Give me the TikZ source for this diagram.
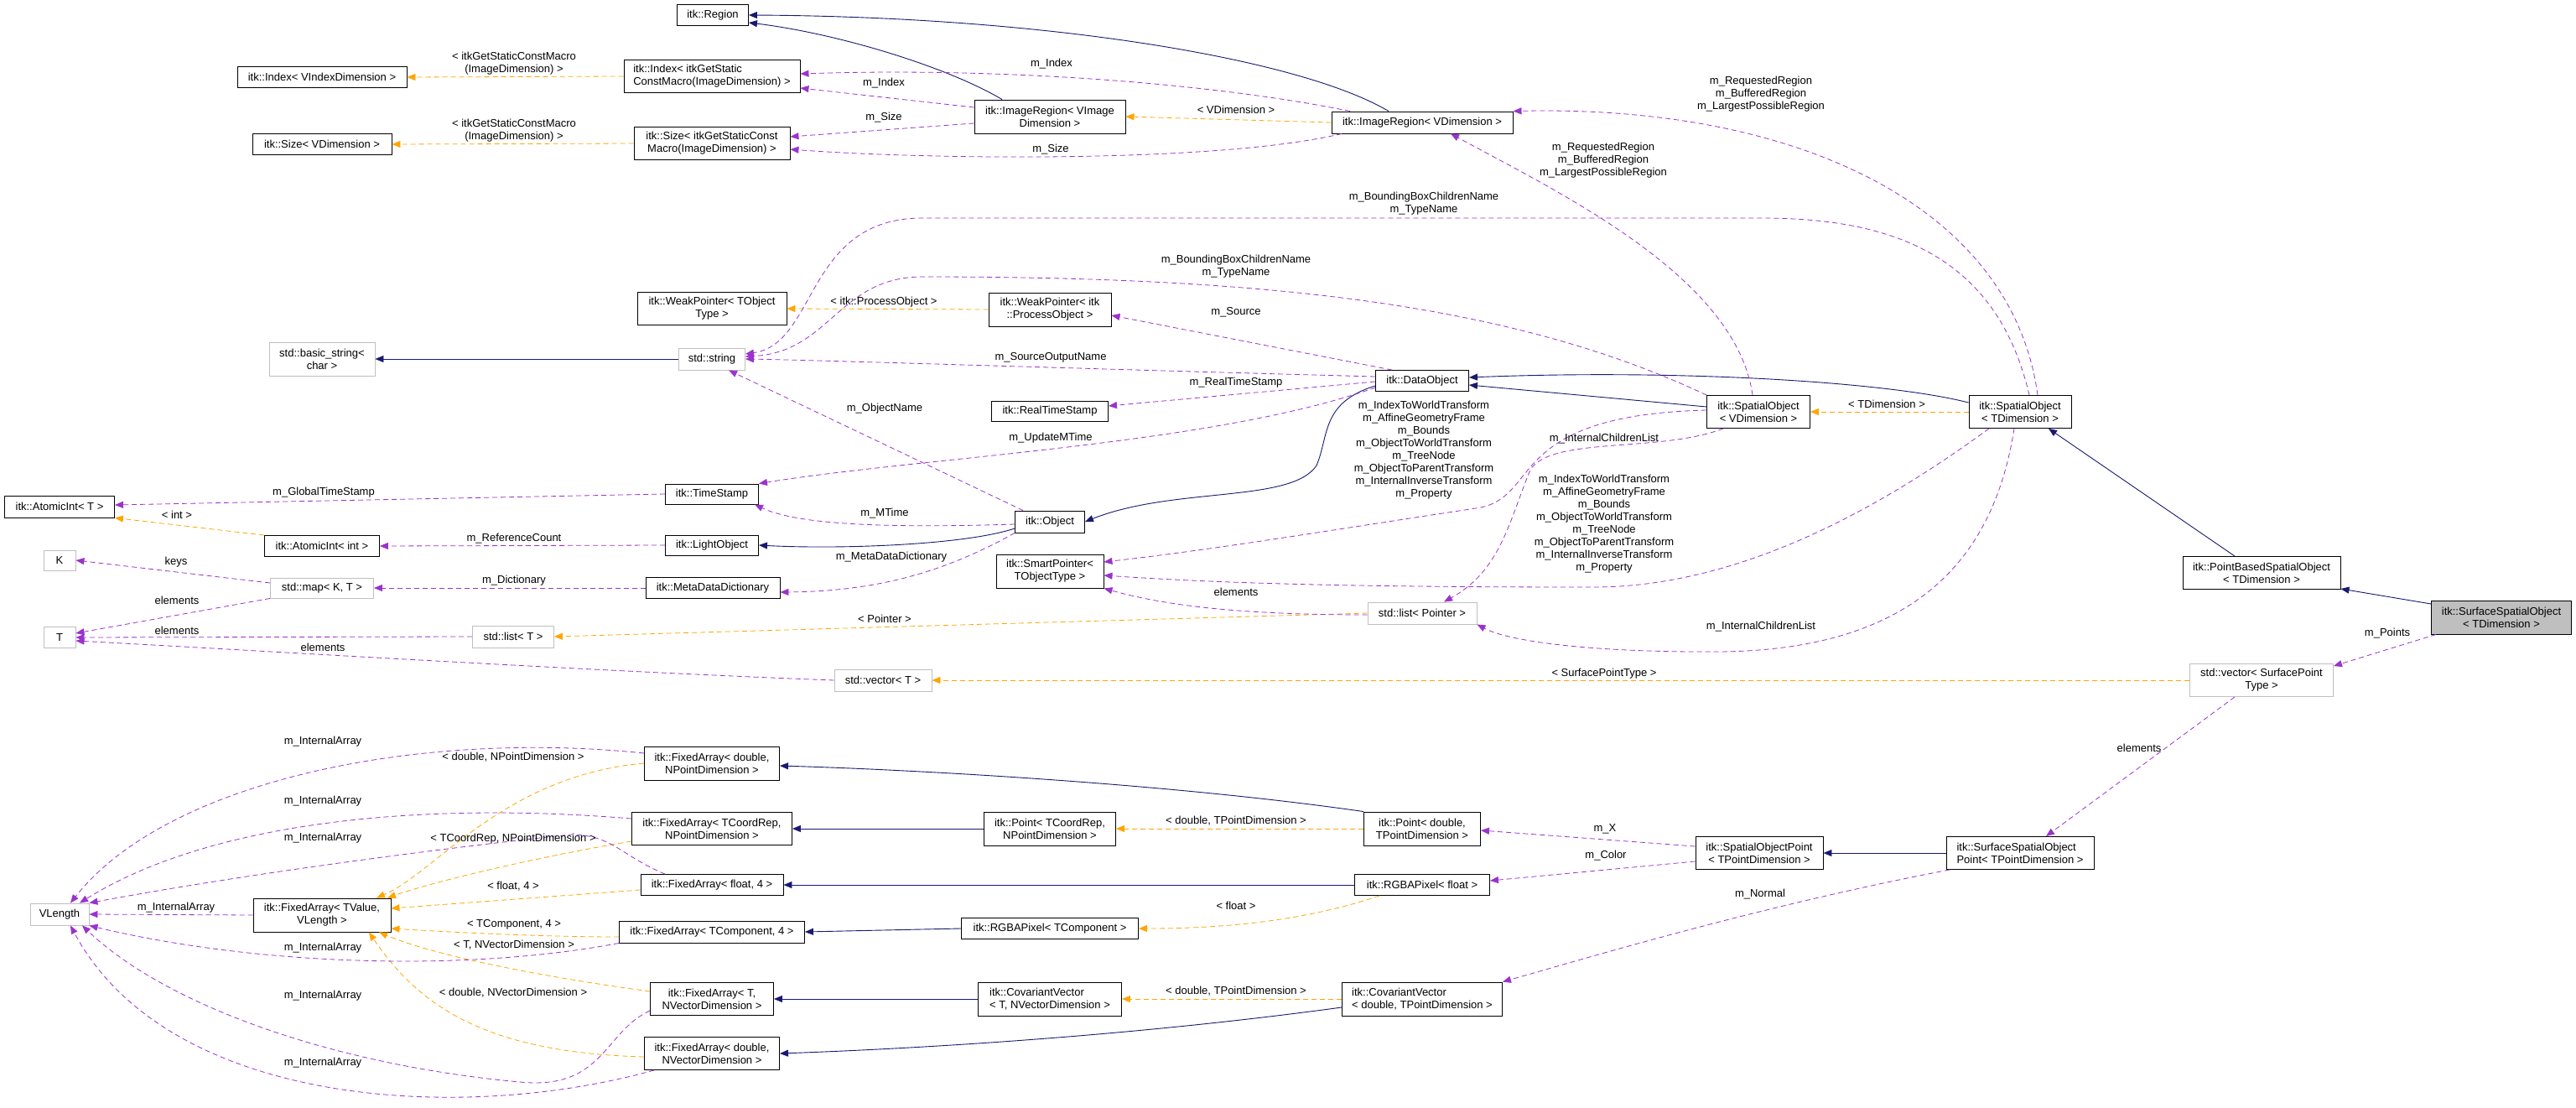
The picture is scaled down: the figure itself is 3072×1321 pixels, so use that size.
\documentclass[tikz,border=0pt]{standalone}
\usepackage{fontspec}
\setmainfont{Liberation Sans}
\usetikzlibrary{arrows.meta}
\definecolor{inhc}{HTML}{191970}
\definecolor{usec}{HTML}{9A32CD}
\definecolor{tmpc}{HTML}{FFA500}
\definecolor{gbord}{HTML}{BFBFBF}
\begin{document}
\begin{tikzpicture}[x=1pt,y=-1pt,
 every node/.style={font=\fontsize{13}{15}\selectfont},
 box/.style={draw=black,line width=0.9pt,fill=white,align=center,inner sep=2pt},
 lbox/.style={box,align=left},
 gbox/.style={box,draw=gbord},
 lab/.style={align=center,inner sep=0pt,fill=none},
 tip/.style={-{Triangle[length=10pt,width=8pt]}},
 inh/.style={tip,draw=inhc,line width=0.9pt},
 use/.style={tip,draw=usec,line width=0.8pt,dash pattern=on 6pt off 4pt},
 tmp/.style={tip,draw=tmpc,line width=0.8pt,dash pattern=on 6pt off 4pt}]
\useasboundingbox[fill=white] (0,0) rectangle (3072,1321);
% nodes
\node[box,minimum width=85,minimum height=25] (region) at (850,18) {itk::Region};
\node[box,minimum width=202,minimum height=25] (idxv) at (384,92) {itk::Index< VIndexDimension >};
\node[lbox,minimum width=210,minimum height=39] (idxg) at (849,91) {itk::Index< itkGetStatic\\ConstMacro(ImageDimension) >};
\node[box,minimum width=166,minimum height=25] (sizev) at (384,172) {itk::Size< VDimension >};
\node[box,minimum width=186,minimum height=39] (sizeg) at (849,171) {itk::Size< itkGetStaticConst\\Macro(ImageDimension) >};
\node[box,minimum width=180,minimum height=40] (irvi) at (1252,139) {itk::ImageRegion< VImage\\Dimension >};
\node[box,minimum width=216,minimum height=26] (irvd) at (1696,146) {itk::ImageRegion< VDimension >};
\node[box,minimum width=178,minimum height=39] (wpt) at (849,368) {itk::WeakPointer< TObject\\Type >};
\node[box,minimum width=146,minimum height=40] (wpp) at (1252,369) {itk::WeakPointer< itk\\::ProcessObject >};
\node[gbox,minimum width=126,minimum height=40] (bstr) at (384,428) {std::basic\_string<\\char >};
\node[gbox,minimum width=79,minimum height=26] (str) at (849,428) {std::string};
\node[box,minimum width=111,minimum height=25] (dobj) at (1696,454) {itk::DataObject};
\node[box,minimum width=139,minimum height=24] (rts) at (1252,490) {itk::RealTimeStamp};
\node[box,minimum width=111,minimum height=24] (ts) at (849,589) {itk::TimeStamp};
\node[box,minimum width=83,minimum height=26] (obj) at (1252,622) {itk::Object};
\node[box,minimum width=131,minimum height=26] (aint) at (71,604) {itk::AtomicInt< T >};
\node[box,minimum width=137,minimum height=25] (aii) at (384,651) {itk::AtomicInt< int >};
\node[box,minimum width=111,minimum height=24] (lobj) at (849,650) {itk::LightObject};
\node[gbox,minimum width=38,minimum height=24] (K) at (71,668) {K};
\node[gbox,minimum width=123,minimum height=24] (map) at (384,701) {std::map< K, T >};
\node[box,minimum width=160,minimum height=25] (mdd) at (850,701) {itk::MetaDataDictionary};
\node[box,minimum width=128,minimum height=40] (sp) at (1252,681) {itk::SmartPointer<\\TObjectType >};
\node[gbox,minimum width=38,minimum height=25] (T) at (71,760) {T};
\node[gbox,minimum width=97,minimum height=26] (listT) at (612,759) {std::list< T >};
\node[gbox,minimum width=130,minimum height=26] (listP) at (1696,731) {std::list< Pointer >};
\node[gbox,minimum width=116,minimum height=26] (vecT) at (1053,811) {std::vector< T >};
\node[box,minimum width=123,minimum height=39] (sov) at (2097,491) {itk::SpatialObject\\< VDimension >};
\node[box,minimum width=122,minimum height=39] (sot) at (2409,491) {itk::SpatialObject\\< TDimension >};
\node[box,minimum width=188,minimum height=39] (pbso) at (2697,683) {itk::PointBasedSpatialObject\\< TDimension >};
\node[box,fill=gbord,minimum width=167,minimum height=40] (sso) at (2983,736) {itk::SurfaceSpatialObject\\< TDimension >};
\node[gbox,minimum width=171,minimum height=39] (vecS) at (2697,811) {std::vector< SurfacePoint\\Type >};
\node[box,minimum width=161,minimum height=40] (fadnp) at (849,910) {itk::FixedArray< double,\\NPointDimension >};
\node[box,minimum width=191,minimum height=39] (fatc) at (849,988) {itk::FixedArray< TCoordRep,\\NPointDimension >};
\node[box,minimum width=170,minimum height=25] (faf4) at (849,1055) {itk::FixedArray< float, 4 >};
\node[box,minimum width=221,minimum height=26] (fatcomp) at (849,1111) {itk::FixedArray< TComponent, 4 >};
\node[box,minimum width=147,minimum height=39] (fatnv) at (849,1191) {itk::FixedArray< T,\\NVectorDimension >};
\node[box,minimum width=161,minimum height=39] (fadnv) at (849,1256) {itk::FixedArray< double,\\NVectorDimension >};
\node[gbox,minimum width=70,minimum height=26] (vlen) at (71,1090) {VLength};
\node[box,minimum width=164,minimum height=40] (fatv) at (384,1091) {itk::FixedArray< TValue,\\VLength >};
\node[box,minimum width=157,minimum height=40] (ptc) at (1252,988) {itk::Point< TCoordRep,\\NPointDimension >};
\node[box,minimum width=139,minimum height=40] (ptd) at (1696,988) {itk::Point< double,\\TPointDimension >};
\node[box,minimum width=161,minimum height=25] (rgbaf) at (1696,1055) {itk::RGBAPixel< float >};
\node[box,minimum width=211,minimum height=25] (rgbat) at (1252,1107) {itk::RGBAPixel< TComponent >};
\node[lbox,minimum width=171,minimum height=40] (cvt) at (1252,1191) {itk::CovariantVector\\< T, NVectorDimension >};
\node[lbox,minimum width=191,minimum height=40] (cvd) at (1696,1191) {itk::CovariantVector\\< double, TPointDimension >};
\node[box,minimum width=152,minimum height=39] (sop) at (2098,1017) {itk::SpatialObjectPoint\\< TPointDimension >};
\node[lbox,minimum width=176,minimum height=39] (ssop) at (2409,1017) {itk::SurfaceSpatialObject\\Point< TPointDimension >};
% inheritance
\draw[inh] ([xshift=-57]irvi.north) .. controls (1130,80) and (1000,40) .. ([yshift=-9]region.east);
\draw[inh] ([xshift=-40]irvd.north) .. controls (1550,70) and (1250,20) .. (region.east);
\draw[inh] (str.west) -- (bstr.east);
\draw[inh] ([yshift=-8]obj.west) .. controls (1150,650) and (1000,655) .. (lobj.east);
\draw[inh] ([yshift=-6]dobj.west) .. controls (1575,480) and (1585,520) .. (1570,555) .. controls (1540,600) and (1400,580) .. (obj.east);
\draw[inh] ([yshift=6]sov.west) -- ([yshift=-5]dobj.east);
\draw[inh] ([yshift=11]sot.west) .. controls (2250,455) and (2000,440) .. ([yshift=4]dobj.east);
\draw[inh] ([xshift=-32]pbso.north) -- ([xshift=34]sot.south);
\draw[inh] ([yshift=16]sso.west) -- ([yshift=-19]pbso.east);
\draw[inh] (ptd.north west) .. controls (1400,935) and (1100,918) .. ([yshift=-3]fadnp.east);
\draw[inh] (ptc.west) -- (fatc.east);
\draw[inh] (rgbaf.west) -- (faf4.east);
\draw[inh] (rgbat.west) -- (fatcomp.east);
\draw[inh] (cvt.west) -- (fatnv.east);
\draw[inh] ([yshift=-10]cvd.west) .. controls (1350,1235) and (1100,1250) .. (fadnv.east);
\draw[inh] (ssop.west) -- (sop.east);
% templates
\draw[tmp] (idxg.west) -- (idxv.east);
\draw[tmp] (sizeg.west) -- (sizev.east);
\draw[tmp] (irvd.west) -- (irvi.east);
\draw[tmp] (wpp.west) -- (wpt.east);
\draw[tmp] (aii.north west) -- (aint.south east);
\draw[tmp] (listP.west) -- (listT.east);
\draw[tmp] (vecS.west) -- (vecT.east);
\draw[tmp] (sot.west) -- (sov.east);
\draw[tmp] (ptd.west) -- (ptc.east);
\draw[tmp] ([xshift=-51]rgbaf.south) .. controls (1550,1100) and (1450,1107) .. (rgbat.east);
\draw[tmp] (cvd.west) -- (cvt.east);
\draw[tmp] (fadnp.west) .. controls (600,925) and (520,1040) .. ([xshift=65]fatv.north);
\draw[tmp] ([yshift=-15]fatc.west) .. controls (650,1020) and (520,1050) .. ([xshift=78]fatv.north);
\draw[tmp] ([yshift=-6]faf4.west) -- ([yshift=8]fatv.east);
\draw[tmp] ([yshift=-6]fatcomp.west) .. controls (650,1117) and (550,1112) .. ([yshift=-16]fatv.east);
\draw[tmp] ([yshift=9]fatnv.west) .. controls (650,1165) and (520,1140) .. ([xshift=68]fatv.south);
\draw[tmp] ([yshift=-4]fadnv.west) .. controls (580,1255) and (500,1200) .. ([xshift=56]fatv.south);
% usage
\draw[use] ([yshift=11]irvi.west) -- ([yshift=-14]idxg.east);
\draw[use] ([xshift=-86]irvd.north) .. controls (1450,100) and (1200,80) .. ([yshift=3]idxg.east);
\draw[use] ([yshift=-8]irvi.west) -- ([yshift=8]sizeg.east);
\draw[use] ([xshift=-96]irvd.south) .. controls (1450,195) and (1100,190) .. ([yshift=-7]sizeg.east);
\draw[use] ([xshift=21]sot.north) .. controls (2400,250) and (2150,125) .. (irvd.north east);
\draw[use] ([xshift=-7]sov.north) .. controls (2070,330) and (1860,230) .. ([xshift=34]irvd.south);
\draw[use] ([xshift=11]sot.north) .. controls (2380,300) and (2250,260) .. (2100,260) -- (1100,260) .. controls (960,260) and (975,410) .. ([yshift=6]str.east);
\draw[use] (sov.north west) .. controls (1800,360) and (1500,330) .. (1100,330) .. controls (1000,330) and (990,420) .. ([yshift=3]str.east);
\draw[use] ([yshift=5]dobj.west) .. controls (1300,440) and (1000,430) .. (str.east);
\draw[use] ([xshift=-32]obj.north) -- ([xshift=20]str.south);
\draw[use] ([xshift=-36]dobj.north) -- ([yshift=-7]wpp.east);
\draw[use] ([yshift=-1]dobj.west) -- ([yshift=6]rts.east);
\draw[use] ([yshift=-8]dobj.west) .. controls (1450,530) and (1100,545) .. (ts.north east);
\draw[use] ([yshift=-3]obj.west) .. controls (1050,630) and (950,625) .. ([xshift=-5]ts.south east);
\draw[use] (ts.west) -- ([yshift=2]aint.east);
\draw[use] (lobj.west) -- (aii.east);
\draw[use] (obj.south west) .. controls (1130,680) and (1050,705) .. ([yshift=-5]mdd.east);
\draw[use] (mdd.west) -- (map.east);
\draw[use] ([yshift=6]map.west) -- (K.east);
\draw[use] (map.south west) -- ([yshift=5]T.east);
\draw[use] (listT.west) -- (T.east);
\draw[use] (vecT.west) .. controls (700,800) and (300,775) .. ([yshift=-4]T.east);
\draw[use] ([yshift=2]sov.west) .. controls (1790,495) and (1840,595) .. (1760,606) .. controls (1600,630) and (1450,655) .. ([yshift=11]sp.east);
\draw[use] ([xshift=-37]sot.south) .. controls (2250,600) and (2080,700) .. (1900,700) .. controls (1600,700) and (1450,695) .. ([yshift=-5]sp.east);
\draw[use] ([yshift=-2]listP.west) .. controls (1500,733) and (1400,725) .. (sp.south east);
\draw[use] ([xshift=-42]sov.south) .. controls (1980,540) and (1850,520) .. (1825,560) .. controls (1800,620) and (1790,680) .. ([xshift=26]listP.north);
\draw[use] ([xshift=-7]sot.south) .. controls (2380,650) and (2300,775) .. (2050,777) .. controls (1900,778) and (1800,765) .. (listP.south east);
\draw[use] ([xshift=-78]sso.south) -- ([yshift=-3]vecS.north east);
\draw[use] ([xshift=-32]vecS.south) -- ([xshift=31]ssop.north);
\draw[use] ([yshift=8]sop.west) -- ([yshift=-2]ptd.east);
\draw[use] ([yshift=-10]sop.west) -- ([yshift=5]rgbaf.east);
\draw[use] ([xshift=-84]ssop.south) .. controls (2100,1080) and (1900,1140) .. (cvd.north east);
\draw[use] ([yshift=12]fadnp.west) .. controls (500,870) and (200,930) .. ([xshift=13]vlen.north);
\draw[use] ([yshift=12]fatc.west) .. controls (500,955) and (250,980) .. ([xshift=24]vlen.north);
\draw[use] ([xshift=-56]faf4.north) .. controls (740,1020) and (730,995) .. (680,995) .. controls (450,1020) and (250,1050) .. (vlen.north east);
\draw[use] (fatv.west) -- (vlen.east);
\draw[use] (fatcomp.south west) .. controls (550,1160) and (300,1150) .. (vlen.south east);
\draw[use] ([yshift=-14]fatnv.west) .. controls (720,1230) and (720,1300) .. (620,1290) .. controls (400,1270) and (200,1200) .. ([xshift=27]vlen.south);
\draw[use] ([xshift=-69]fadnv.south) .. controls (550,1340) and (200,1320) .. ([xshift=13]vlen.south);
% labels
\node[lab] (l1) at (613,76) {< itkGetStaticConstMacro\\(ImageDimension) >};
\node[lab] (l2) at (613,156) {< itkGetStaticConstMacro\\(ImageDimension) >};
\node[lab] (l3) at (1054,99) {m\_Index};
\node[lab] (l4) at (1254,76) {m\_Index};
\node[lab] (l5) at (1054,140) {m\_Size};
\node[lab] (l6) at (1253,178) {m\_Size};
\node[lab] (l7) at (1474,131) {< VDimension >};
\node[lab] (l8) at (1912,191) {m\_RequestedRegion\\m\_BufferedRegion\\m\_LargestPossibleRegion};
\node[lab] (l9) at (2100,112) {m\_RequestedRegion\\m\_BufferedRegion\\m\_LargestPossibleRegion};
\node[lab] (l10) at (1698,243) {m\_BoundingBoxChildrenName\\m\_TypeName};
\node[lab] (l11) at (1474,318) {m\_BoundingBoxChildrenName\\m\_TypeName};
\node[lab] (l12) at (1054,360) {< itk::ProcessObject >};
\node[lab] (l13) at (1474,372) {m\_Source};
\node[lab] (l14) at (1253,426) {m\_SourceOutputName};
\node[lab] (l15) at (1474,456) {m\_RealTimeStamp};
\node[lab] (l16) at (1253,522) {m\_UpdateMTime};
\node[lab] (l17) at (1055,487) {m\_ObjectName};
\node[lab] (l18) at (1055,612) {m\_MTime};
\node[lab] (l19) at (1063,664) {m\_MetaDataDictionary};
\node[lab] (l20) at (386,587) {m\_GlobalTimeStamp};
\node[lab] (l21) at (211,614) {< int >};
\node[lab] (l22) at (613,642) {m\_ReferenceCount};
\node[lab] (l23) at (210,670) {keys};
\node[lab] (l24) at (613,692) {m\_Dictionary};
\node[lab] (l25) at (211,716) {elements};
\node[lab] (l26) at (211,752) {elements};
\node[lab] (l27) at (385,772) {elements};
\node[lab] (l28) at (1055,738) {< Pointer >};
\node[lab] (l29) at (1913,803) {< SurfacePointType >};
\node[lab] (l30) at (1474,706) {elements};
\node[lab] (l31) at (1698,537) {m\_IndexToWorldTransform\\m\_AffineGeometryFrame\\m\_Bounds\\m\_ObjectToWorldTransform\\m\_TreeNode\\m\_ObjectToParentTransform\\m\_InternalInverseTransform\\m\_Property};
\node[lab] (l32) at (1913,625) {m\_IndexToWorldTransform\\m\_AffineGeometryFrame\\m\_Bounds\\m\_ObjectToWorldTransform\\m\_TreeNode\\m\_ObjectToParentTransform\\m\_InternalInverseTransform\\m\_Property};
\node[lab] (l33) at (1913,523) {m\_InternalChildrenList};
\node[lab] (l34) at (2100,747) {m\_InternalChildrenList};
\node[lab] (l35) at (2250,482) {< TDimension >};
\node[lab] (l36) at (2847,755) {m\_Points};
\node[lab] (l37) at (2551,892) {elements};
\node[lab] (l38) at (1914,988) {m\_X};
\node[lab] (l39) at (1915,1020) {m\_Color};
\node[lab] (l40) at (2099,1066) {m\_Normal};
\node[lab] (l41) at (1474,979) {< double, TPointDimension >};
\node[lab] (l42) at (1474,1182) {< double, TPointDimension >};
\node[lab] (l43) at (1474,1080) {< float >};
\node[lab] (l44) at (612,903) {< double, NPointDimension >};
\node[lab] (l45) at (385,884) {m\_InternalArray};
\node[lab] (l46) at (385,955) {m\_InternalArray};
\node[lab] (l47) at (385,999) {m\_InternalArray};
\node[lab] (l48) at (210,1082) {m\_InternalArray};
\node[lab] (l49) at (385,1130) {m\_InternalArray};
\node[lab] (l50) at (385,1187) {m\_InternalArray};
\node[lab] (l51) at (385,1267) {m\_InternalArray};
\node[lab] (l52) at (612,1000) {< TCoordRep, NPointDimension >};
\node[lab] (l53) at (612,1057) {< float, 4 >};
\node[lab] (l54) at (613,1102) {< TComponent, 4 >};
\node[lab] (l55) at (613,1127) {< T, NVectorDimension >};
\node[lab] (l56) at (612,1184) {< double, NVectorDimension >};
\end{tikzpicture}
\end{document}
